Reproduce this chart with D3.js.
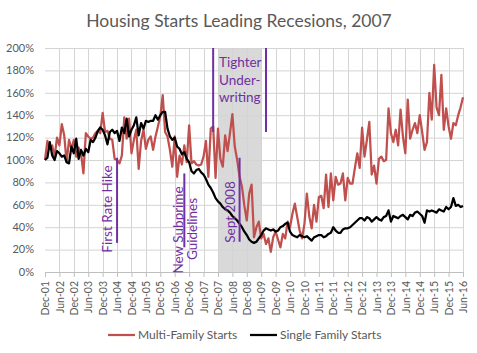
<!DOCTYPE html>
<html>
<head>
<meta charset="utf-8">
<script src="https://cdn.jsdelivr.net/npm/d3@7/dist/d3.min.js"></script>
<style>
  body { margin: 0; background: #fff; }
  svg { font-family: Lato, "Open Sans", sans-serif; }
</style>
</head>
<body>
<div id="chart"></div>
<script>
// Tick labels, one every 6 months starting Dec-01
const tickLabels = ["Dec-01", "Jun-02", "Dec-02", "Jun-03", "Dec-03", "Jun-04", "Dec-04", "Jun-05",
  "Dec-05", "Jun-06", "Dec-06", "Jun-07", "Dec-07", "Jun-08", "Dec-08", "Jun-09", "Dec-09", "Jun-10",
  "Dec-10", "Jun-11", "Dec-11", "Jun-12", "Dec-12", "Jun-13", "Dec-13", "Jun-14", "Dec-14", "Jun-15",
  "Dec-15", "Jun-16"];

const yTicks = [0, 20, 40, 60, 80, 100, 120, 140, 160, 180, 200];

// Monthly starts indexed to Dec-01 = 100%
const multiFamily = [
  100, 117, 110, 113, 103, 120, 113, 132, 122, 98, 118, 110,
  118, 103, 111, 106, 88, 124, 121, 119, 120, 124, 126, 124,
  142, 125, 126, 119, 118, 101, 100, 97, 104, 138, 119, 137,
  106, 118, 127, 92, 117, 127, 110, 118, 121, 109, 121, 130,
  139, 158, 125, 121, 109, 94, 121, 85, 104, 96, 113, 98,
  131, 97, 99, 96, 95, 96, 103, 117, 85, 128, 130, 84,
  128, 101, 94, 122, 108, 124, 141, 112, 100, 85, 76, 59,
  46, 70, 78, 31, 40, 45, 30, 34, 25, 30, 18, 31,
  36, 29, 22, 34, 30, 45, 40, 52, 61, 49, 37, 30,
  43, 70, 50, 39, 60, 45, 67, 68, 57, 87, 58, 88,
  64, 85, 78, 79, 88, 64, 84, 79, 79, 93, 106, 93,
  129, 103, 118, 134, 87, 95, 79, 101, 103, 99, 100, 146,
  124, 116, 127, 113, 145, 121, 106, 154, 119, 127, 133, 124,
  140, 125, 109, 116, 160, 136, 185, 147, 140, 176, 127, 146,
  130, 119, 133, 131, 140, 147, 156
];

const singleFamily = [
  100, 102, 116, 104, 100, 108, 106, 103, 104, 98, 97, 112,
  106, 119, 101, 109, 104, 110, 107, 118, 116, 120, 126, 129,
  127, 122, 114, 125, 127, 124, 126, 117, 129, 124, 137, 121,
  127, 131, 138, 122, 133, 128, 135, 134, 135, 135, 140, 136,
  140, 143, 143, 128, 121, 118, 120, 112, 110, 105, 107, 101,
  98, 90, 88, 91, 92, 89, 87, 83, 78, 75, 71, 66,
  63, 61, 58, 56, 55, 53, 50, 48, 46, 43, 40, 36,
  33, 29, 27, 26, 27, 30, 33, 37, 39, 38, 37, 38,
  36, 37, 40, 41, 43, 44, 36, 33, 32, 31, 33, 32,
  31, 32, 30, 28, 31, 32, 33, 33, 31, 32, 34, 35,
  40, 37, 35, 35, 38, 39, 39, 40, 42, 44, 46, 48,
  48, 46, 49, 48, 45, 47, 49, 47, 46, 49, 50, 55,
  45, 50, 49, 48, 50, 51, 49, 47, 51, 50, 53, 54,
  52, 50, 44, 55, 54, 55, 54, 53, 56, 55, 54, 58,
  56, 58, 66, 59, 60, 58, 59
];

// Recession (month index from Dec-01)
const recessionStart = 72, recessionEnd = 90;

// Event markers: month index, value range of the line
const markerMonths = [30, 58, 70, 81, 92];
const markerFrom = [26, 22, 125, 27, 125];
const markerTo = [102, 88, 200, 102, 200];

const margin = { top: 48, right: 14, bottom: 81, left: 45 },
      W = 477, H = 353,
      width = W - margin.left - margin.right,
      height = H - margin.top - margin.bottom;

const svg = d3.select("#chart").append("svg")
  .attr("width", W)
  .attr("height", H);

const g = svg.append("g")
  .attr("transform", `translate(${margin.left},${margin.top})`);

const x = d3.scaleLinear().domain([0, multiFamily.length - 1]).range([0, width]);
const y = d3.scaleLinear().domain([0, 200]).range([height, 0]);

// Title
svg.append("text")
  .attr("x", 239)
  .attr("y", 27)
  .attr("text-anchor", "middle")
  .attr("fill", "#595959")
  .style("font-size", "17.5px")
  .text("Housing Starts Leading Recesions, 2007");

// Recession shading
g.append("rect")
  .attr("x", x(recessionStart))
  .attr("y", 0)
  .attr("width", x(recessionEnd) - x(recessionStart))
  .attr("height", height)
  .attr("fill", "#D9D9D9");

// Gridlines
g.append("g")
  .selectAll("line")
  .data(yTicks.slice(1))
  .join("line")
  .attr("x1", 0).attr("x2", width)
  .attr("y1", d => y(d) + 0.5).attr("y2", d => y(d) + 0.5)
  .attr("stroke", "#D4D4D4");

g.append("g")
  .selectAll("line")
  .data(tickLabels.map((d, i) => i * 6).slice(1))
  .join("line")
  .attr("x1", d => Math.round(x(d)) + 0.5).attr("x2", d => Math.round(x(d)) + 0.5)
  .attr("y1", 0).attr("y2", height)
  .attr("stroke", "#D4D4D4");

// Y axis labels
g.append("g")
  .selectAll("text")
  .data(yTicks)
  .join("text")
  .attr("x", -11)
  .attr("y", d => y(d))
  .attr("dy", "0.35em")
  .attr("text-anchor", "end")
  .attr("fill", "#595959")
  .style("font-size", "11px")
  .text(d => d + "%");

// X axis
const xAxis = g.append("g")
  .attr("transform", `translate(0,${height})`)
  .call(d3.axisBottom(x)
    .tickValues(tickLabels.map((d, i) => i * 6))
    .tickFormat((d, i) => tickLabels[i])
    .tickSize(5)
    .tickPadding(5));
xAxis.select(".domain").attr("stroke", "#BFBFBF");
xAxis.selectAll(".tick line").attr("stroke", "#BFBFBF");
xAxis.selectAll(".tick text")
  .attr("fill", "#595959")
  .style("font-size", "10.5px")
  .style("font-family", "Lato, sans-serif")
  .attr("transform", "rotate(-90)")
  .attr("text-anchor", "end")
  .attr("x", -9)
  .attr("y", 0)
  .attr("dy", "0.35em");

// Series lines
const line = d3.line()
  .x((d, i) => x(i))
  .y(d => y(d));

g.append("path")
  .datum(multiFamily)
  .attr("fill", "none")
  .attr("stroke", "#C0504D")
  .attr("stroke-width", 2.25)
  .attr("stroke-linejoin", "round")
  .attr("d", line);

g.append("path")
  .datum(singleFamily)
  .attr("fill", "none")
  .attr("stroke", "#000")
  .attr("stroke-width", 2.25)
  .attr("stroke-linejoin", "round")
  .attr("d", line);

// Event marker lines
const purple = "#7030A0";
g.append("g")
  .selectAll("line")
  .data(markerMonths)
  .join("line")
  .attr("x1", d => x(d)).attr("x2", d => x(d))
  .attr("y1", (d, i) => y(markerFrom[i]))
  .attr("y2", (d, i) => y(markerTo[i]))
  .attr("stroke", purple)
  .attr("stroke-width", 2);

// Annotation texts
function vText(px, py, txt) {
  svg.append("text")
    .attr("transform", `translate(${px},${py}) rotate(-90)`)
    .attr("text-anchor", "middle")
    .attr("fill", purple)
    .style("font-size", "13.5px")
    .text(txt);
}
vText(112, 209, "First Rate Hike");
vText(183, 230, "New Subprime");
vText(197, 229, "Guidelines");
vText(235, 212, "Sept 2008");

["Tighter", "Under-", "writing"].forEach((t, i) => {
  svg.append("text")
    .attr("x", 219)
    .attr("y", 67 + i * 17.5)
    .attr("fill", purple)
    .style("font-size", "13.5px")
    .text(t);
});

// Legend
const legend = svg.append("g").attr("transform", "translate(0,335)");
[["Multi-Family Starts", "#C0504D", 108], ["Single Family Starts", "#000", 250]].forEach(([name, color, lx]) => {
  legend.append("line")
    .attr("x1", lx).attr("x2", lx + 27)
    .attr("y1", 0).attr("y2", 0)
    .attr("stroke", color)
    .attr("stroke-width", 2.25);
  legend.append("text")
    .attr("x", lx + 30)
    .attr("y", 0)
    .attr("dy", "0.35em")
    .attr("fill", "#595959")
    .style("font-size", "12px")
    .text(name);
});
</script>
</body>
</html>
